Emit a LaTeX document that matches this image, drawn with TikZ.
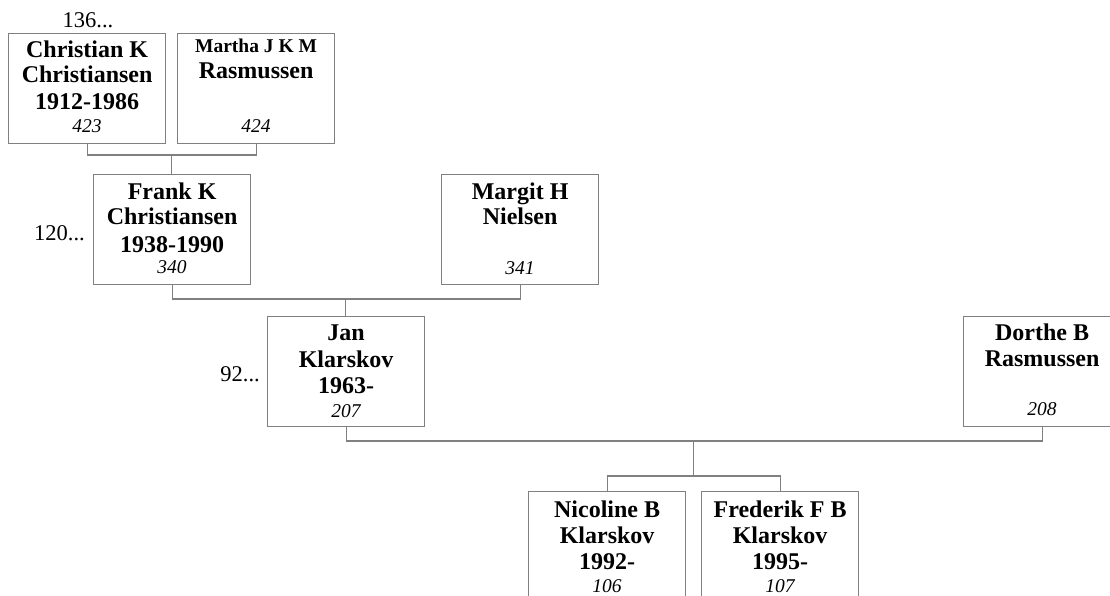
\documentclass[tikz,border=0pt]{standalone}
\usepackage{fontspec}
\setmainfont{Liberation Serif}
\definecolor{lnc}{RGB}{128,128,128}
\begin{document}
\begin{tikzpicture}[x=1pt,y=-1pt,
  person/.style={draw=lnc, line width=1.2pt, rectangle, minimum width=157pt, minimum height=110pt, inner sep=0pt, anchor=north west},
  conn/.style={draw=lnc, line width=1.2pt},
  nm/.style={font=\bfseries\fontsize{24}{26}\selectfont, anchor=base, inner sep=0pt},
  nmsmall/.style={font=\bfseries\fontsize{19.5}{22}\selectfont, anchor=base, inner sep=0pt},
  num/.style={font=\itshape\fontsize{19.5}{20}\selectfont, anchor=base, inner sep=0pt},
  ref/.style={font=\fontsize{22.5}{24}\selectfont, inner sep=0pt}]
\useasboundingbox (0,0) rectangle (1110,596);

% boxes
\node[person] (c) at (8,33) {};
\node[person] (m) at (177,33) {};
\node[person] (f) at (93,174) {};
\node[person] (g) at (441,174) {};
\node[person] (j) at (267,316) {};
\node[person] (d) at (963,316) {};
\node[person] (n) at (528,491) {};
\node[person] (r) at (701,491) {};

% connectors
\coordinate (u1) at (171.5,155);
\coordinate (u2) at (345.5,299);
\coordinate (u3) at (693.5,441);
\coordinate (s3) at (693.5,476);
\draw[conn] (c.south) |- (u1) -| (m.south);
\draw[conn] (u1) -- (u1 |- f.north);
\draw[conn] (f.south) |- (u2) -| (g.south);
\draw[conn] (u2) -- (u2 |- j.north);
\draw[conn] (j.south) |- (u3) -| (d.south);
\draw[conn] (u3) -- (s3);
\draw[conn] (n.north) |- (s3) -| (r.north);

% Christian
\node[nm, yshift=-25pt] (c1) at (c.north) {Christian K};
\node[nm, yshift=-50pt] (c2) at (c.north) {Christiansen};
\node[nm, yshift=-77pt] (c3) at (c.north) {1912-1986};
\node[num, yshift=-100pt] (c4) at (c.north) {423};
% Martha
\node[nmsmall, yshift=-20pt] (m1) at (m.north) {Martha J K M};
\node[nm, yshift=-46pt] (m2) at (m.north) {Rasmussen};
\node[num, yshift=-100pt] (m4) at (m.north) {424};
% Frank
\node[nm, yshift=-26pt] (f1) at (f.north) {Frank K};
\node[nm, yshift=-50pt] (f2) at (f.north) {Christiansen};
\node[nm, yshift=-78pt] (f3) at (f.north) {1938-1990};
\node[num, yshift=-99pt] (f4) at (f.north) {340};
% Margit
\node[nm, yshift=-26pt] (g1) at (g.north) {Margit H};
\node[nm, yshift=-50pt] (g2) at (g.north) {Nielsen};
\node[num, yshift=-100pt] (g4) at (g.north) {341};
% Jan
\node[nm, yshift=-24pt] (j1) at (j.north) {Jan};
\node[nm, yshift=-51pt] (j2) at (j.north) {Klarskov};
\node[nm, yshift=-77pt] (j3) at (j.north) {1963-};
\node[num, yshift=-101pt] (j4) at (j.north) {207};
% Dorthe
\node[nm, yshift=-24pt] (d1) at (d.north) {Dorthe B};
\node[nm, yshift=-50pt] (d2) at (d.north) {Rasmussen};
\node[num, yshift=-99pt] (d4) at (d.north) {208};
% Nicoline
\node[nm, yshift=-26pt] (n1) at (n.north) {Nicoline B};
\node[nm, yshift=-52pt] (n2) at (n.north) {Klarskov};
\node[nm, yshift=-78pt] (n3) at (n.north) {1992-};
\node[num, yshift=-101pt] (n4) at (n.north) {106};
% Frederik
\node[nm, yshift=-26pt] (r1) at (r.north) {Frederik F B};
\node[nm, yshift=-52pt] (r2) at (r.north) {Klarskov};
\node[nm, yshift=-78pt] (r3) at (r.north) {1995-};
\node[num, yshift=-101pt] (r4) at (r.north) {107};

% generation references
\node[ref, anchor=base] (rc) at (88,28) {136...};
\node[ref, anchor=base east] (rf) at (85,240) {120...};
\node[ref, anchor=base east] (rj) at (260,381) {92...};
\end{tikzpicture}
\end{document}
